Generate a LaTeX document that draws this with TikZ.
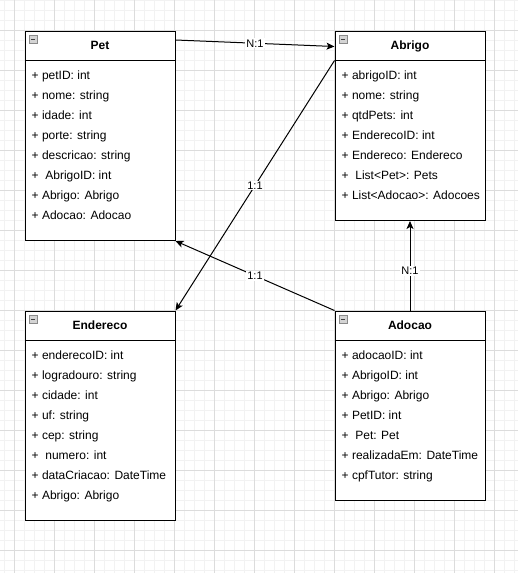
\documentclass[tikz,border=0pt]{standalone}
\usepackage{fontspec}
\setmainfont{Liberation Sans}
\usetikzlibrary{calc,arrows.meta}
\definecolor{minorgrid}{HTML}{F2F2F2}
\definecolor{majorgrid}{HTML}{DCDCDC}
\definecolor{iconfill}{HTML}{D4D4D4}
\definecolor{iconline}{HTML}{8A8A8A}
\tikzset{
  minorline/.style={draw=minorgrid,line width=0.8pt},
  majorline/.style={draw=majorgrid,line width=0.8pt},
  classbox/.style={draw=black,line width=1pt,rectangle,anchor=north west,minimum width=150pt,inner sep=0pt,fill=white},
  headtext/.style={anchor=base,inner sep=0pt,font=\fontsize{12}{14}\selectfont\bfseries},
  attrtext/.style={anchor=base west,inner sep=0pt,font=\fontsize{12}{14}\selectfont},
  reltext/.style={fill=white,inner sep=1pt,font=\fontsize{11}{13}\selectfont},
  relarrow/.style={draw=black,line width=1pt,-{Stealth[length=8pt,width=7pt,inset=2pt]}},
  minusicon/.style={draw=iconline,fill=iconfill,line width=0.6pt},
}
\newcommand{\umlclass}[6]{%
  % #1 name, #2 x, #3 y, #4 height, #5 title, #6 attributes
  \node[classbox,minimum height=#4pt] (#1) at (#2,#3) {};
  \draw[line width=1pt] ($(#1.north west)+(0,30)$) coordinate (#1-sepl) -- ($(#1.north east)+(0,30)$) coordinate (#1-sepr);
  \node[headtext] (#1-title) at ($(#1.north)+(0,19)$) {#5};
  \draw[minusicon] ($(#1.north west)+(4.5,4.5)$) rectangle ($(#1.north west)+(12.5,12.5)$);
  \draw[line width=0.9pt,draw=black!75] ($(#1.north west)+(6.5,8.5)$) -- ($(#1.north west)+(10.5,8.5)$);
  \foreach \t [count=\i] in {#6} {
    \node[attrtext] (#1-a\i) at ($(#1.north west)+(7,48.5+20*\i-20)$) {\t};
  }
}
\begin{document}
\begin{tikzpicture}[x=1pt,y=-1pt]
\useasboundingbox (0,0) rectangle (518,573);
\fill[white] (0,0) rectangle (518,573);
% grid
\foreach \x in {4,14,...,514} \draw[minorline] (\x,0) -- (\x,573);
\foreach \y in {0,10,...,570} \draw[minorline] (0,\y) -- (518,\y);
\foreach \x in {14,54,...,494} \draw[majorline] (\x,0) -- (\x,573);
\foreach \y in {30,70,...,550} \draw[majorline] (0,\y) -- (518,\y);

\umlclass{pet}{24.5}{30.5}{209.5}{Pet}{{+ petID: int},{+ nome: string},{+ idade: int},{+ porte: string},{+ descricao: string},{+\ \ AbrigoID: int},{+ Abrigo: Abrigo},{+ Adocao: Adocao}}
\umlclass{abrigo}{334.5}{30.5}{189.5}{Abrigo}{{+ abrigoID: int},{+ nome: string},{+ qtdPets: int},{+ EnderecoID: int},{+ Endereco: Endereco},{+\ \ List<Pet>: Pets},{+ List<Adocao>: Adocoes}}
\umlclass{endereco}{24.5}{310.5}{209.5}{Endereco}{{+ enderecoID: int},{+ logradouro: string},{+ cidade: int},{+ uf: string},{+ cep: string},{+\ \ numero: int},{+ dataCriacao: DateTime},{+ Abrigo: Abrigo}}
\umlclass{adocao}{334.5}{310.5}{189.5}{Adocao}{{+ adocaoID: int},{+ AbrigoID: int},{+ Abrigo: Abrigo},{+ PetID: int},{+\ \ Pet: Pet},{+ realizadaEm: DateTime},{+ cpfTutor: string}}

\coordinate (petout) at ($(pet.north east)+(0,9.5)$);
\coordinate (abrigoin) at ($(abrigo.north west)+(0,16)$);

\draw[relarrow] (petout) -- node[reltext] (lbl1) {N:1} (abrigoin);
\draw[relarrow] (abrigo-sepl) -- node[reltext] (lbl2) {1:1} (endereco.north east);
\draw[relarrow] (adocao.north west) -- node[reltext] (lbl3) {1:1} (pet.south east);
\draw[relarrow] (adocao.north) -- node[reltext,pos=0.44] (lbl4) {N:1} (abrigo.south);
\end{tikzpicture}
\end{document}
